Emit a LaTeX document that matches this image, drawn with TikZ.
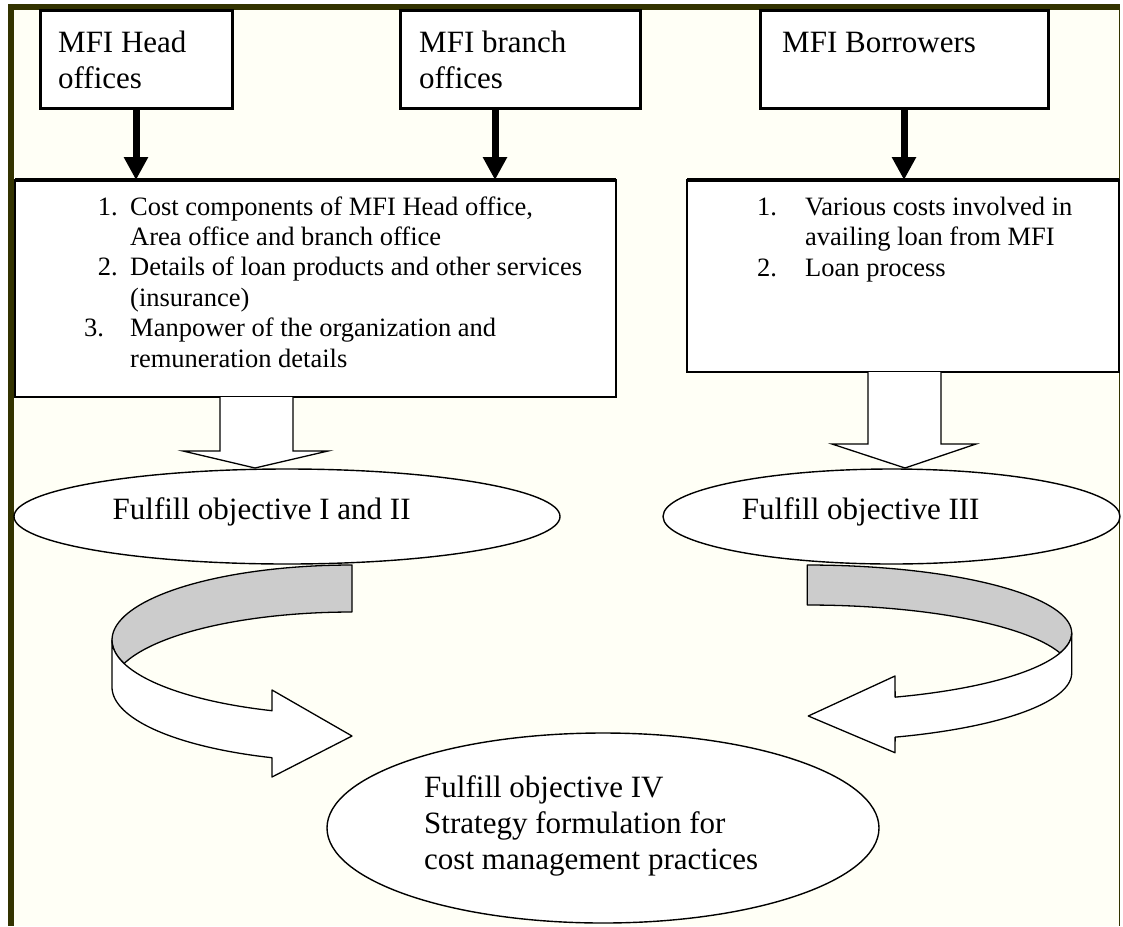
\documentclass[tikz,border=0pt]{standalone}
\usepackage{fontspec}
\setmainfont{Liberation Serif}
\usetikzlibrary{shapes.geometric,arrows.meta}
\definecolor{framec}{HTML}{333300}
\definecolor{cream}{HTML}{FFFFF6}
\definecolor{ribbon}{HTML}{CCCCCC}
\begin{document}
\begin{tikzpicture}[x=1pt,y=-1pt,
 titlebox/.style={draw,line width=3pt,fill=white,inner sep=0pt,outer sep=0pt,anchor=north west},
 listbox/.style={draw,line width=1.5pt,fill=white,inner sep=0pt,outer sep=0pt,anchor=north west},
 oval/.style={draw,ellipse,line width=1.4pt,fill=white,inner sep=0pt,outer sep=0pt},
 ttl/.style={anchor=base west,inner sep=0pt,font=\fontsize{31}{36}\selectfont},
 itm/.style={anchor=base west,inner sep=0pt,font=\fontsize{26.5}{30}\selectfont},
 blk/.style={line width=7pt,-{Triangle[length=23pt,width=23pt]}},
 hollow/.style={draw,line width=1.3pt,fill=white,line join=miter},
 band/.style={draw,line width=1.3pt,line join=round},
]
\useasboundingbox (0,0) rectangle (1123,926);
% background and frame
\fill[white] (0,0) rectangle (1123,926);
\fill[cream] (14,10) rectangle (1119,926);
\fill[framec] (8,4) rectangle (1120,10);
\fill[framec] (8,4) rectangle (14,926);
\draw[framec,line width=1.5pt] (1119.5,10) -- (1119.5,926);

% title boxes
\node[titlebox,minimum width=192pt,minimum height=98pt] (hoff) at (40,10) {};
\node[titlebox,minimum width=240pt,minimum height=98pt] (hbr) at (400,10) {};
\node[titlebox,minimum width=288pt,minimum height=98pt] (hbo) at (760,10) {};
\node[ttl] (t1a) at (58,52) {MFI Head};
\node[ttl] (t1b) at (58,88) {offices};
\node[ttl] (t2a) at (419,52) {MFI branch};
\node[ttl] (t2b) at (419,88) {offices};
\node[ttl] (t3) at (782,52) {MFI Borrowers};

% list boxes
\node[listbox,minimum width=601pt,minimum height=217pt] (bigL) at (15,180) {};
\node[listbox,minimum width=432pt,minimum height=192pt] (bigR) at (687,180) {};
\draw[line width=3.5pt] (bigL.north west) -- (bigL.north east);
\draw[line width=3.5pt] (bigR.north west) -- (bigR.north east);

\node[itm] (n1) at (97.6,215) {1.};
\node[itm] (l1) at (130,215) {Cost components of MFI Head office,};
\node[itm] (l2) at (130,245.4) {Area office and branch office};
\node[itm] (n2) at (97.6,275.8) {2.};
\node[itm] (l3) at (130,275.8) {Details of loan products and other services};
\node[itm] (l4) at (130,306.2) {(insurance)};
\node[itm] (n3) at (84,336.6) {3.};
\node[itm] (l5) at (130,336.6) {Manpower of the organization and};
\node[itm] (l6) at (130,367) {remuneration details};

\node[itm] (m1) at (757,215) {1.};
\node[itm] (r1) at (805,215) {Various costs involved in};
\node[itm] (r2) at (805,245) {availing loan from MFI};
\node[itm] (m2) at (757,276) {2.};
\node[itm] (r3) at (805,276) {Loan process};

% hollow block arrows
\draw[hollow] (220,397) -- (220,451) -- (183,451) -- (255,468) -- (328,451) -- (293,451) -- (293,397);
\draw[hollow] (868,372) -- (868,444) -- (832,444) -- (905,468) -- (976,444) -- (941,444) -- (941,372);

% ellipses
\node[oval,minimum width=546pt,minimum height=95pt] (o12) at (287,516.5) {};
\node[oval,minimum width=457pt,minimum height=95pt] (o3) at (891.5,516.5) {};
\node[oval,minimum width=552pt,minimum height=190pt] (o4) at (603,828) {};
\node[ttl] (e1) at (112.5,519) {Fulfill objective I and II};
\node[ttl] (e2) at (741.7,519) {Fulfill objective III};
\node[ttl] (e3) at (424,797) {Fulfill objective IV};
\node[ttl] (e4) at (424,833) {Strategy formulation for};
\node[ttl] (e5) at (424,869) {cost management practices};

% left curved ribbon arrow
\filldraw[band,fill=ribbon]
  plot[domain=90:180,samples=40] ({352+240*cos(\x)},{640-75*sin(\x)})
  -- plot[domain=180:198.26,samples=10] ({352+240*cos(\x)},{640-75*sin(\x)})
  -- plot[domain=161.74:90,samples=40] ({352+240*cos(\x)},{687-75*sin(\x)})
  -- cycle;
\filldraw[band,fill=white]
  plot[domain=180:250.53,samples=40] ({352+240*cos(\x)},{640-75*sin(\x)})
  -- (272,690) -- (352,736) -- (272,777)
  -- plot[domain=250.53:180,samples=40] ({352+240*cos(\x)},{687-75*sin(\x)})
  -- cycle;

% right curved ribbon arrow
\filldraw[band,fill=ribbon]
  plot[domain=90:0,samples=40] ({807.3+264.4*cos(\x)},{633-68*sin(\x)})
  -- plot[domain=0:-17.1,samples=10] ({807.3+264.4*cos(\x)},{633-68*sin(\x)})
  -- plot[domain=17.1:90,samples=40] ({807.3+264.4*cos(\x)},{673-68*sin(\x)})
  -- cycle;
\filldraw[band,fill=white]
  plot[domain=0:-70.6,samples=40] ({807.3+264.4*cos(\x)},{633-68*sin(\x)})
  -- (895,676) -- (808.3,716) -- (895,752.7)
  -- plot[domain=-70.6:0,samples=40] ({807.3+264.4*cos(\x)},{673-68*sin(\x)})
  -- cycle;

% black arrows
\draw[blk] (hoff.south) -- (hoff.south |- bigL.north);
\draw[blk] ([xshift=-25pt]hbr.south) -- ([xshift=-25pt]hbr.south |- bigL.north);
\draw[blk] (hbo.south) -- (hbo.south |- bigR.north);
\end{tikzpicture}
\end{document}
